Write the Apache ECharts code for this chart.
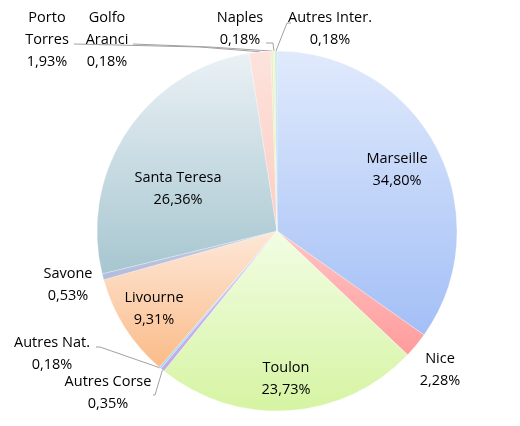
<!DOCTYPE html>
<html>
<head>
<meta charset="utf-8">
<script src="https://cdn.jsdelivr.net/npm/echarts@6/dist/echarts.min.js"></script>
<style>
  html, body { margin: 0; padding: 0; background: #fff; }
  #chart { width: 520px; height: 426px; }
</style>
</head>
<body>
<div id="chart"></div>
<script>
// data
const categories = ['Marseille', 'Nice', 'Toulon', 'Autres Corse', 'Autres Nat.', 'Livourne',
                    'Savone', 'Santa Teresa', 'Porto Torres', 'Golfo Aranci', 'Naples', 'Autres Inter.'];
const shares = [34.80, 2.28, 23.73, 0.35, 0.18, 9.31, 0.53, 26.36, 1.93, 0.18, 0.18, 0.18];

// gradient colours, top -> bottom
const colorsTop = ['#e0eafc', '#ffc4c4', '#f2fde4', '#cdbdee', '#b2e6f6', '#fde8d9',
                   '#c3cbe3', '#eaf1f5', '#fde3dd', '#dff3c8', '#fff3bf', '#c4ecf7'];
const colorsBottom = ['#a3bff6', '#ff9c9c', '#d6f4a2', '#c0a9e8', '#9ad9ef', '#fbbb88',
                      '#b1bbdb', '#a7c6d0', '#fbcdc3', '#cfeaa8', '#fbe79a', '#a6dff0'];

const cx = 277, cy = 231, R = 180;
const total = shares.reduce((a, b) => a + b, 0);

// where each label sits (text block centre)
const labelAt = {
    0: [397, 170], 1: [440, 370], 2: [286, 379], 3: [108, 393],
    4: [52, 354], 5: [154, 309], 6: [68, 285], 7: [178, 189],
    8: [47, 40], 9: [107, 40], 10: [240, 29], 11: [330, 29]
};
// leader line bends, from the slice to the label
const leader = {
    3: [[155, 395], [153, 395]],
    4: [[100, 347], [96, 347]],
    8: [[200, 47], [74, 44]],
    9: [[210, 47], [133, 44]],
    10: [[273, 43], [266, 43]],
    11: [[287, 23], [291, 23]]
};
const wrap = {8: true, 9: true};

function edgePoint(i) {
    let before = 0;
    for (let k = 0; k < i; k++) before += shares[k];
    const a = (before + shares[i] / 2) / total * 2 * Math.PI;
    return [cx + R * Math.sin(a), cy - R * Math.cos(a)];
}

const chart = echarts.init(document.getElementById('chart'), null, {renderer: 'canvas'});

chart.setOption({
    animation: false,
    series: [{
        type: 'pie',
        center: [cx, cy],
        radius: R,
        startAngle: 90,
        clockwise: true,
        avoidLabelOverlap: false,
        itemStyle: {
            borderColor: 'rgba(255,255,255,0.5)',
            borderWidth: 0.5
        },
        label: {
            show: true,
            position: 'outside',
            color: '#000',
            fontFamily: 'Open Sans',
            fontSize: 14.5,
            lineHeight: 22,
            align: 'center',
            formatter: function (p) {
                const name = wrap[p.dataIndex] ? p.name.replace(' ', '\n') : p.name;
                return name + '\n' + p.value.toFixed(2).replace('.', ',') + '%';
            }
        },
        labelLine: {show: false},
        labelLayout: function (params) {
            const i = params.dataIndex;
            const out = {
                x: labelAt[i][0],
                y: labelAt[i][1],
                align: 'center',
                verticalAlign: 'middle'
            };
            if (leader[i]) {
                out.labelLinePoints = [edgePoint(i)].concat(leader[i]);
            }
            return out;
        },
        emphasis: {disabled: true},
        data: categories.map((name, i) => ({
            name: name,
            value: shares[i],
            itemStyle: {
                color: new echarts.graphic.LinearGradient(0, 0, 0, 1, [
                    {offset: 0, color: colorsTop[i]},
                    {offset: 1, color: colorsBottom[i]}
                ])
            },
            labelLine: {
                show: !!leader[i],
                smooth: false,
                lineStyle: {color: '#a0a0a0', width: 1}
            }
        }))
    }]
});
</script>
</body>
</html>
